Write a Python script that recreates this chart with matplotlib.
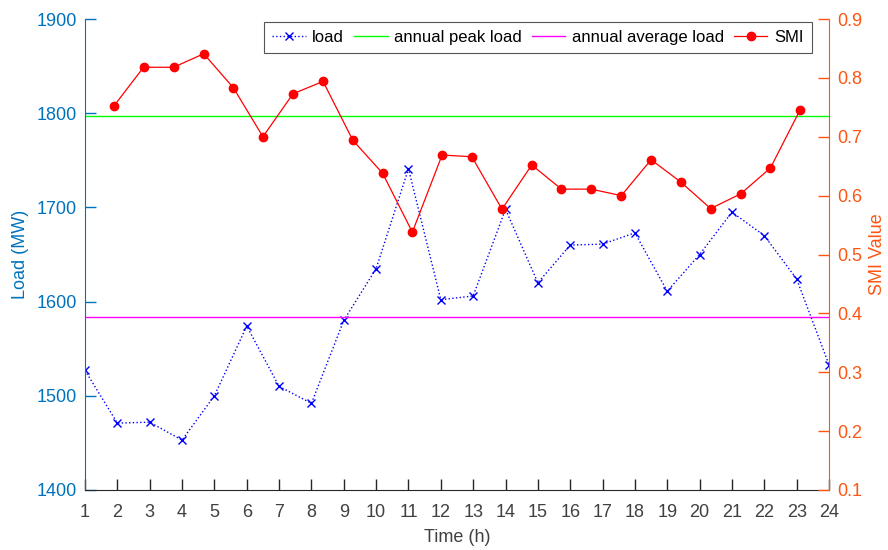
import numpy as np
import matplotlib
matplotlib.use("Agg")
import matplotlib.pyplot as plt

plt.rcParams['font.family'] = ['Liberation Sans', 'DejaVu Sans']

# hourly load (MW)
hours = list(range(1, 25))
load = [1527, 1471, 1472, 1453, 1500, 1574, 1510, 1492, 1580, 1635, 1741, 1602,
        1606, 1698, 1620, 1660, 1661, 1673, 1611, 1650, 1695, 1670, 1624, 1533]
peak_load = 1797
avg_load = 1584

# SMI series, sampled on its own grid
smi_hours = [1.89, 2.81, 3.74, 4.67, 5.59, 6.50, 7.43, 8.36, 9.28, 10.20, 11.12, 12.04,
             12.96, 13.89, 14.81, 15.73, 16.65, 17.58, 18.50, 19.42, 20.34, 21.27, 22.19, 23.11]
smi = [0.752, 0.818, 0.818, 0.841, 0.783, 0.700, 0.773, 0.794, 0.694, 0.638, 0.538, 0.669,
       0.666, 0.577, 0.652, 0.611, 0.611, 0.600, 0.661, 0.623, 0.578, 0.603, 0.647, 0.746]

left_col = '#0072BD'
right_col = '#FF5511'
fs = 13

fig = plt.figure(figsize=(8.88, 5.5), dpi=100)
ax = fig.add_axes([85/888, 60/550, 744/888, 471/550])
ax2 = ax.twinx()

l1, = ax.plot(hours, load, ':', color='#0000FF', marker='x', markersize=5.5,
              markeredgewidth=1.0, linewidth=1.0, label='load')
l2 = ax.axhline(peak_load, color='#00FF00', linewidth=1.0, label='annual peak load')
l3 = ax.axhline(avg_load, color='#FF00FF', linewidth=1.0, label='annual average load')
l4, = ax2.plot(smi_hours, smi, '-', color='#FF0000', marker='o', markersize=6,
               linewidth=0.9, label='SMI')

ax.set_xlim(1, 24)
ax.set_ylim(1400, 1900)
ax2.set_ylim(0.1, 0.9)
ax.set_xticks(hours)
ax.set_yticks(np.arange(1400, 1901, 100))
ax2.set_yticks(np.arange(0.1, 0.91, 0.1))
ax2.set_yticklabels([f'{v:.1f}' for v in np.arange(0.1, 0.91, 0.1)])

for a in (ax, ax2):
    a.spines['top'].set_visible(False)
    a.tick_params(direction='in', length=8, width=1, labelsize=fs)
ax.spines['left'].set_color(left_col)
ax.spines['bottom'].set_color('#262626')
ax.spines['right'].set_visible(False)
ax2.spines['left'].set_visible(False)
ax2.spines['bottom'].set_visible(False)
ax2.spines['right'].set_color(right_col)
ax.tick_params(axis='y', colors=left_col, pad=6)
ax.tick_params(axis='x', colors='#262626', labelcolor='#404040', pad=10)
ax2.tick_params(axis='y', colors=right_col, pad=6)

ax.set_xlabel('Time (h)', fontsize=fs, color='#404040', labelpad=6)
ax.set_ylabel('Load (MW)', fontsize=fs, color=left_col)
ax2.set_ylabel('SMI Value', fontsize=fs, color=right_col)
ax.yaxis.set_label_coords(-0.075, 0.5)
ax2.yaxis.set_label_coords(1.054, 0.5)

leg = ax2.legend(handles=[l1, l2, l3, l4], ncol=4, loc='upper right',
                 bbox_to_anchor=(0.977, 0.994), borderaxespad=0, fontsize=12,
                 fancybox=False, framealpha=1, edgecolor='#555555',
                 columnspacing=0.6, handletextpad=0.4, borderpad=0.5,
                 handlelength=2.0)
leg.get_frame().set_linewidth(0.8)

fig.savefig('out.png', dpi=100)
